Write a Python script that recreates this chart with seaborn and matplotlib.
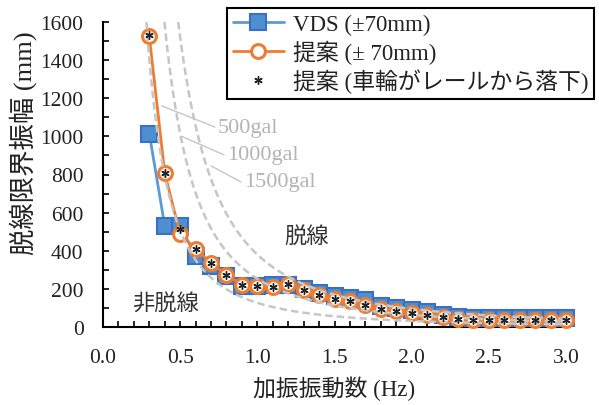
import numpy as np
import pandas as pd
import matplotlib
matplotlib.use("Agg")
import matplotlib.pyplot as plt
from matplotlib.ticker import MultipleLocator
import seaborn as sns

# ---- data ----
freq = [0.3, 0.4, 0.5, 0.6, 0.7, 0.8, 0.9, 1.0, 1.1, 1.2, 1.3, 1.4, 1.5, 1.6,
        1.7, 1.8, 1.9, 2.0, 2.1, 2.2, 2.3, 2.4, 2.5, 2.6, 2.7, 2.8, 2.9, 3.0]
vds = [1015, 530, 530, 372, 320, 270, 215, 215, 220, 222, 200, 180, 165, 152,
       140, 110, 100, 90, 80, 65, 55, 45, 45, 45, 45, 45, 45, 45]
proposal = [1525, 808, 487, 409, 335, 273, 222, 215, 212, 227, 195, 167, 149, 135,
            118, 96, 84, 74, 63, 54, 40, 38, 35, 35, 35, 35, 35, 35]
derail = [1530, 808, 515, 409, 335, 273, 222, 215, 212, 227, 195, 167, 149, 135,
          118, 96, 84, 74, 63, 54, 40, 38, 35, 35, 35, 35, 35, 35]
gal_levels = [500, 1000, 1500]          # constant-acceleration reference curves
gal_labels = ["500gal", "1000gal", "1500gal"]
legend_labels = ["VDS (±70mm)", "提案 (± 70mm)", "提案 (車輪がレールから落下)"]
xlabel = "加振振動数 (Hz)"
ylabel = "脱線限界振幅 (mm)"

sns.set_theme(style="white")
plt.rcParams["font.family"] = ["Liberation Serif", "Noto Sans CJK JP"]
plt.rcParams["axes.unicode_minus"] = False

W, H = 599, 406
fig = plt.figure(figsize=(W / 100, H / 100), dpi=100)
ax = fig.add_axes([103 / W, 1 - 328 / H, (566 - 103) / W, (328 - 23) / H])

blue_line = "#5B9BD5"
blue_face = "#4D8FD1"
blue_edge = "#3A6FC2"
orange = "#ED7D31"
gray = "#C6C6C6"

df = pd.DataFrame({"f": freq, "vds": vds, "prop": proposal, "der": derail})

sns.lineplot(data=df, x="f", y="vds", ax=ax, color=blue_line, lw=2.0,
             marker="s", markersize=12, markerfacecolor=blue_face,
             markeredgecolor=blue_edge, markeredgewidth=1.5,
             label=legend_labels[0], clip_on=False, zorder=3)
sns.lineplot(data=df, x="f", y="prop", ax=ax, color=orange, lw=2.0,
             marker="o", markersize=10, markerfacecolor="white",
             markeredgecolor=orange, markeredgewidth=2.2,
             label=legend_labels[1], clip_on=False, zorder=4)

# constant-acceleration curves  A = a / (2 pi f)^2
for g in gal_levels:
    a = g * 10.0  # gal -> mm/s^2
    fmin = np.sqrt(a / (4 * np.pi ** 2 * 1600))
    fc = np.linspace(fmin, 3.0, 300)
    amp = a / (2 * np.pi * fc) ** 2
    sns.lineplot(x=fc, y=amp, ax=ax, color=gray, lw=1.8, dashes=(3, 1.6),
                 sort=False, zorder=5, legend=False)

sns.lineplot(data=df, x="f", y="der", ax=ax, color="#111111", lw=0,
             linestyle="none", marker=(6, 2, 0), markersize=6,
             markeredgecolor="#222222", markerfacecolor="#222222",
             markeredgewidth=1.0, label=legend_labels[2], clip_on=False, zorder=6)

# gal annotations with leader lines
gal_text_pos = [(0.745, 1049), (0.804, 903), (0.914, 761)]
leader_start = [(0.38, 1160), (0.51, 1000), (0.70, 845)]
for lab, (tx, ty), (sx, sy) in zip(gal_labels, gal_text_pos, leader_start):
    ax.plot([sx, tx - 0.02], [sy, ty], color=gray, lw=1.0, zorder=5)
    ax.text(tx, ty, lab, color="#B4B4B4", fontsize=16, ha="left", va="center")

ax.text(1.316, 472, "脱線", fontsize=16, color="#333333", ha="center", va="center")
ax.text(0.402, 121, "非脱線", fontsize=16, color="#333333", ha="center", va="center")

ax.set_xlim(0, 3.0)
ax.set_ylim(0, 1600)
ax.xaxis.set_major_locator(MultipleLocator(0.5))
ax.xaxis.set_minor_locator(MultipleLocator(0.1))
ax.yaxis.set_major_locator(MultipleLocator(200))
ax.yaxis.set_minor_locator(MultipleLocator(100))
ax.xaxis.set_major_formatter(matplotlib.ticker.FormatStrFormatter("%.1f"))

for side in ["top", "right"]:
    ax.spines[side].set_visible(False)
for side in ["left", "bottom"]:
    ax.spines[side].set_color("black")
    ax.spines[side].set_linewidth(1.5)

ax.tick_params(axis="both", which="both", direction="in", length=4, width=1.2,
               colors="black", labelcolor="#222222", labelsize=15.5)
ax.tick_params(axis="x", which="both", pad=15, bottom=True)
ax.tick_params(axis="y", which="both", pad=14, left=True)

ax.set_xlabel(xlabel, fontsize=16.5, color="#222222", labelpad=6)
ax.set_ylabel(ylabel, fontsize=19, color="#222222")
ax.yaxis.set_label_coords((37 - 103) / 463, (328 - 143) / 305)

leg = ax.legend(loc="upper right", bbox_to_anchor=(594 / W, 1 - 9 / H),
                bbox_transform=fig.transFigure, frameon=True, fancybox=False,
                edgecolor="black", framealpha=1, fontsize=16.5, handlelength=2.2,
                labelspacing=0.2, borderpad=0.25, borderaxespad=0,
                handletextpad=0.4)
leg.get_frame().set_linewidth(1.5)
for t in leg.get_texts():
    t.set_color("#222222")

fig.savefig("out.png", dpi=100, facecolor="white")
